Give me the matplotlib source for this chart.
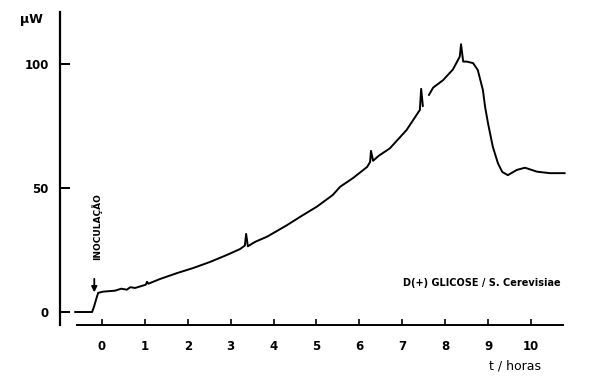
import numpy as np
import matplotlib
matplotlib.use("Agg")
import matplotlib.pyplot as plt

# heat flow trace (nan = gap in the pen trace)
t_horas = [-0.63, -0.23, -0.18, -0.13, -0.09, 0.02, 0.30, 0.45, 0.58, 0.66, 0.77,
           1.02, 1.05, 1.08, 1.35, 1.75, 2.12, 2.52, 2.91, 3.22, 3.33, 3.36, 3.40,
           3.57, 3.85, 4.31, 4.62, 5.01, 5.38, 5.55, 5.85, 6.18, 6.25, 6.27, 6.32,
           6.45, 6.71, 7.10, 7.41, 7.44, 7.48, np.nan, 7.62, 7.72, 7.95, 8.18, 8.34,
           8.37, 8.42, 8.50, 8.65, 8.76, 8.88, 8.93, 9.00, 9.11, 9.23, 9.33, 9.46,
           9.67, 9.86, 10.14, 10.44, 10.79]
potencia = [0.0, 0.0, 2.5, 5.5, 7.7, 8.2, 8.6, 9.4, 9.0, 10.0, 9.7,
            11.0, 12.2, 11.4, 13.3, 15.7, 17.7, 20.2, 23.0, 25.4, 26.8, 31.5, 26.5,
            28.3, 30.4, 35.0, 38.4, 42.5, 47.2, 50.5, 54.0, 58.5, 60.5, 65.0, 61.0,
            63.0, 66.0, 73.4, 81.5, 90.0, 83.0, np.nan, 87.5, 90.5, 93.5, 97.8, 103.0,
            108.0, 101.0, 101.0, 100.4, 97.6, 89.5, 82.8, 76.0, 66.7, 60.0, 56.5, 55.2,
            57.3, 58.2, 56.6, 56.0, 56.0]

x_ticks = list(range(0, 11))
y_ticks = [0, 50, 100]

fig = plt.figure(figsize=(5.92, 3.77), dpi=100)
ax = fig.add_axes([60 / 592, 52 / 377, 510 / 592, 313 / 377])

ax.plot(t_horas, potencia, color="black", lw=1.4, solid_capstyle="round")

ax.set_xlim(-0.979, 10.91)
ax.set_ylim(-5.24, 121.0)

for s in ["top", "right"]:
    ax.spines[s].set_visible(False)
ax.spines["left"].set_linewidth(1.6)
ax.spines["bottom"].set_linewidth(1.4)
ax.spines["bottom"].set_bounds(-0.58, 10.75)

ax.set_xticks(x_ticks)
ax.set_yticks(y_ticks)
ax.tick_params(axis="y", direction="in", length=7, width=1.4, pad=8)
ax.tick_params(axis="x", direction="in", length=4, width=1.2, pad=11)
for lab in ax.get_xticklabels() + ax.get_yticklabels():
    lab.set_fontweight("bold")
    lab.set_fontsize(8.5)

fig.text(20 / 592, 1 - 20 / 377, "µW", fontsize=9, fontweight="bold",
         ha="left", va="center")
fig.text(515 / 592, 1 - 366 / 377, "t / horas", fontsize=9,
         ha="center", va="center")

ax.annotate("", xy=(-0.18, 6.8), xytext=(-0.18, 14.5),
            arrowprops=dict(arrowstyle="-|>", color="black", lw=1.3,
                            mutation_scale=8))
ax.text(-0.12, 21, "INOCULAÇÃO", rotation=90, fontsize=6.5, fontweight="bold",
        ha="center", va="bottom")
ax.text(10.7, 11.8, "D(+) GLICOSE / S. Cerevisiae", fontsize=7, fontweight="bold",
        ha="right", va="center")

fig.savefig("out.png", dpi=100)
